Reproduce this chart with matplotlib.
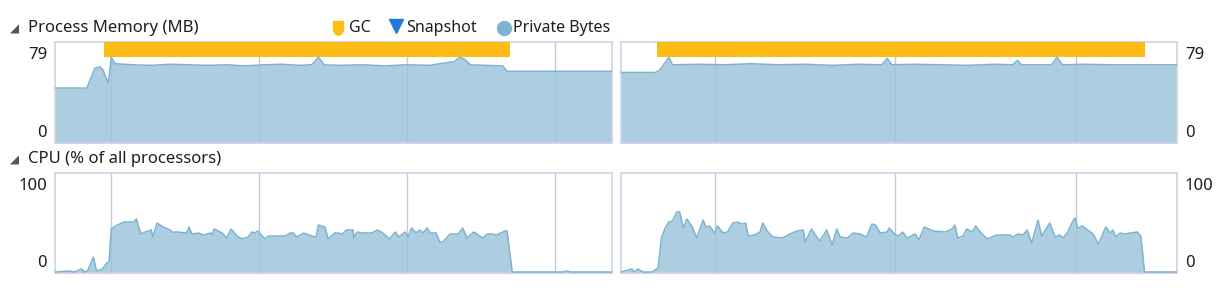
import matplotlib
matplotlib.use("Agg")
import matplotlib.pyplot as plt
import numpy as np

# Process memory (MB) and CPU (%) over time (s), two sessions side by side

mem_left_t = [6.2, 8.35, 8.9, 9.25, 9.45, 9.8, 10.0, 10.25, 11.5, 12.7,
              14.0, 15.3, 16.5, 17.8, 19.0, 20.3, 21.5, 22.8, 23.55, 24.0,
              24.4, 25.5, 27.0, 28.5, 30.0, 31.5, 33.2, 33.55, 33.9, 34.25,
              35.3, 36.45, 36.75, 43.84]
mem_left = [50.6, 50.6, 69, 70, 67, 55, 79, 73, 72, 71.5,
            72.5, 72, 71.5, 72, 71, 72, 72.5, 71.5, 72, 79,
            72, 71.5, 72, 71, 72, 71.5, 75, 79, 77, 72,
            71.5, 71, 66, 66]

mem_right_t = [4.8, 6.7, 6.95, 7.45, 7.65, 9.0, 10.5, 12.0, 13.5, 15.0,
               16.5, 18.0, 19.25, 19.55, 19.8, 21.0, 22.5, 24.0, 25.5, 26.5,
               26.75, 27.0, 28.0, 28.65, 28.95, 29.25, 30.5, 32.0, 33.5, 35.6]
mem_right = [65, 65, 67, 79, 72, 72.5, 72, 73, 72, 72.5,
             71.5, 72.5, 72, 78, 72, 72.5, 72, 71.5, 72.5, 72,
             76, 72, 72, 72, 79, 72, 72.5, 72, 72, 72]

cpu_left_t = [6.2, 7.1, 7.5, 8.0, 8.2, 8.4, 8.8, 9.0, 9.4, 9.7,
              9.85, 10.0, 10.4, 10.9, 11.5, 11.7, 12.0, 12.3, 12.7, 12.8,
              13.1, 13.5, 14.0, 14.1, 14.5, 15.1, 15.25, 15.45, 15.9, 16.2,
              16.7, 16.8, 16.95, 17.5, 17.8, 18.1, 18.5, 18.85, 19.25, 19.5,
              19.7, 19.9, 20.2, 20.4, 20.6, 21.1, 21.75, 22.1, 22.3, 22.55,
              23.0, 23.55, 23.85, 24.0, 24.45, 24.65, 25.1,
              25.3, 25.6, 25.9, 26.35, 26.4, 26.6, 27.0, 27.6, 28.0, 28.35,
              28.8, 29.2, 29.45, 29.85, 30.05, 30.3, 30.6, 30.85, 31.05, 31.35,
              31.55, 31.95, 32.2, 32.4, 32.9, 33.45, 33.75, 34.05, 34.5, 34.8,
              35.1, 35.4, 35.8, 36.05, 36.6, 36.75, 37.1, 38.3, 40.5, 40.8,
              41.05, 43.84]
cpu_left = [1, 2, 1, 4, 1, 2, 16, 2, 4, 10,
            11, 44, 48, 51, 51, 54, 39, 41, 43, 36,
            50, 46, 43, 41, 41, 40, 46, 39, 40, 38,
            40, 38, 44, 40, 35, 44, 37, 34, 36, 41,
            40, 42, 37, 34, 37, 37, 37, 40, 40, 36,
            40, 37, 36, 48, 46, 34, 40,
            40, 39, 43, 43, 35, 41, 40, 40, 43, 40,
            34, 41, 36, 41, 36, 45, 40, 43, 40, 45,
            40, 40, 31, 31, 39, 39, 45, 35, 41, 38,
            35, 39, 39, 38, 42, 42, 1, 1, 1, 2,
            1, 1]

cpu_right_t = [4.8, 5.2, 5.4, 5.55, 5.75, 6.0, 6.5, 6.85, 7.05, 7.25,
               7.45, 7.65, 7.9, 8.05, 8.25, 8.45, 8.75, 9.0, 9.35, 9.5,
               9.7, 10.0, 10.15, 10.45, 10.7, 11.0, 11.25, 11.5, 11.7, 11.85,
               12.2, 12.5, 12.65, 12.9, 13.2, 13.75, 14.15, 14.55, 14.9, 15.0,
               15.35, 15.8, 16.2, 16.5, 16.75, 16.95, 17.35, 17.65, 18.05, 18.4,
               18.7, 18.9, 19.15, 19.55, 19.65, 19.95, 20.15, 20.4, 20.65, 21.1,
               21.3, 21.6, 22.1, 22.75, 23.15, 23.3, 23.45, 23.75, 23.95, 24.25,
               24.45, 24.7, 25.1, 25.6, 26.35, 26.5, 26.8, 27.05, 27.3, 27.55,
               27.9, 28.1, 28.55, 28.85, 29.1, 29.3, 29.55, 29.8, 29.95, 30.1,
               30.35, 30.65, 30.95, 31.25, 31.65, 31.9, 32.05, 32.2, 32.45, 32.7,
               33.0, 33.4, 33.6, 33.8, 35.6]
cpu_right = [1, 3, 4, 1, 4, 1, 1, 5, 36, 45,
             51, 52, 61, 61, 45, 54, 46, 35, 53, 46,
             47, 40, 47, 40, 41, 50, 51, 49, 50, 37,
             38, 41, 50, 42, 36, 35, 39, 42, 43, 31,
             44, 32, 43, 28, 44, 36, 35, 40, 39, 36,
             49, 48, 40, 41, 45, 39, 37, 41, 35, 39,
             33, 46, 42, 41, 44, 48, 35, 37, 44, 41,
             47, 41, 34, 38, 38, 36, 39, 38, 43, 30,
             53, 37, 50, 36, 38, 35, 41, 51, 55, 45,
             47, 43, 39, 29, 46, 40, 43, 36, 40, 39,
             40, 41, 37, 1, 1]

# GC activity spans (s)
gc_left = (9.5, 36.95)
gc_right = (6.8, 33.8)

xlim_left = (6.2, 43.84)
xlim_right = (4.8, 35.6)
grid_left = [10, 20, 30, 40]
grid_right = [10, 20, 30]
mem_max = 93
mem_label = "79"
cpu_max = 100

LINE = "#7db3d0"
BORDER = "#cfd3e6"
GC_COLOR = "#fdbd16"
SNAP_COLOR = "#1f7bd6"
TEXT = "#1e1e1e"
FONT = "Noto Sans"

plt.rcParams["font.family"] = [FONT, "DejaVu Sans"]

fig = plt.figure(figsize=(12.25, 2.92), dpi=100)
W, H = 1225, 292


def px_axes(x0, y0, x1, y1):
    return fig.add_axes([x0 / W, (H - y1) / H, (x1 - x0) / W, (y1 - y0) / H])


def style(ax, xlim, ylim, grid):
    ax.set_xlim(*xlim)
    ax.set_ylim(*ylim)
    ax.set_xticks(grid)
    ax.set_yticks([])
    ax.tick_params(axis="x", length=0, labelbottom=False)
    ax.grid(axis="x", color="#c3c8dc", lw=1)
    ax.set_axisbelow(True)
    for s in ax.spines.values():
        s.set_color(BORDER)
        s.set_linewidth(1.2)


def area(ax, t, v):
    ax.fill_between(t, v, 0, color="#9ac4da", alpha=0.82, lw=0, zorder=2)
    ax.plot(t, v, color=LINE, lw=1.1, zorder=3)


ax_ml = px_axes(55, 42, 612, 143)
ax_mr = px_axes(621, 42, 1177, 143)
ax_cl = px_axes(55, 173, 612, 273)
ax_cr = px_axes(621, 173, 1177, 273)

style(ax_ml, xlim_left, (0, mem_max), grid_left)
style(ax_mr, xlim_right, (0, mem_max), grid_right)
style(ax_cl, xlim_left, (0, cpu_max), grid_left)
style(ax_cr, xlim_right, (0, cpu_max), grid_right)

area(ax_ml, mem_left_t, mem_left)
area(ax_mr, mem_right_t, mem_right)
area(ax_cl, cpu_left_t, cpu_left)
area(ax_cr, cpu_right_t, cpu_right)

ax_ml.axvspan(*gc_left, ymin=0.85, ymax=1.0, color=GC_COLOR, lw=0, zorder=4)
ax_mr.axvspan(*gc_right, ymin=0.85, ymax=1.0, color=GC_COLOR, lw=0, zorder=4)

# value labels at left / right of the panels
lab = dict(fontsize=12, color=TEXT, va="center")
for ax, top in ((ax_ml, mem_label), (ax_cl, "100")):
    ax.text(-0.014, 0.875, top, transform=ax.transAxes, ha="right", **lab)
    ax.text(-0.014, 0.10, "0", transform=ax.transAxes, ha="right", **lab)
for ax, top in ((ax_mr, mem_label), (ax_cr, "100")):
    ax.text(1.014, 0.875, top, transform=ax.transAxes, ha="left", **lab)
    ax.text(1.014, 0.10, "0", transform=ax.transAxes, ha="left", **lab)

# headers and legend on an overlay in pixel units
ov = fig.add_axes([0, 0, 1, 1], zorder=-1)
ov.set_xlim(0, W)
ov.set_ylim(H, 0)
ov.axis("off")

hdr = dict(fontsize=12, color=TEXT, va="center", ha="left")
leg = dict(fontsize=11.5, color=TEXT, va="center", ha="left")
ov.text(10, 29, "\u25e2", fontsize=8.5, color="#555555", va="center", ha="left",
        family="DejaVu Sans")
ov.text(28, 28, "Process Memory (MB)", **hdr)
ov.text(10, 160, "\u25e2", fontsize=8.5, color="#555555", va="center", ha="left",
        family="DejaVu Sans")
ov.text(28, 159, "CPU (% of all processors)", **hdr)

gc_marker = [(-0.5, 0.7), (0.5, 0.7), (0.5, -0.2), (0.3, -0.55), (0, -0.7),
             (-0.3, -0.55), (-0.5, -0.2), (-0.5, 0.7)]
ov.plot([338], [28], marker=gc_marker, ms=10, color=GC_COLOR, mec=GC_COLOR, ls="")
ov.text(349, 28, "GC", **leg)
ov.plot([396], [26], marker="v", ms=9.5, color=SNAP_COLOR, mec=SNAP_COLOR, ls="")
ov.text(406, 28, "Snapshot", **leg)
ov.plot([504], [28], marker="o", ms=10, color="#7eb3d2", mec="#7eb3d2", ls="")
ov.text(513, 28, "Private Bytes", **leg)

fig.savefig("out.png", dpi=100)
